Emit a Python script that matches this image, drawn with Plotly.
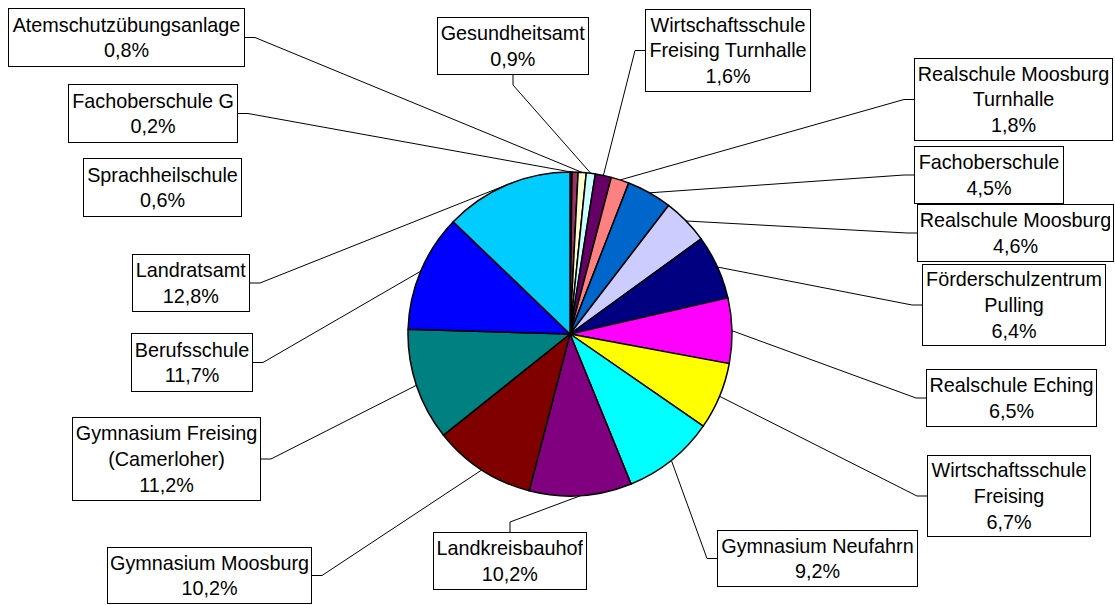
import math
import plotly.graph_objects as go

# ---- data (pie order, clockwise from 12 o'clock) ----
names = [
    "Fachoberschule G",
    "Sprachheilschule",
    "Atemschutzübungsanlage",
    "Gesundheitsamt",
    "Wirtschaftsschule\nFreising Turnhalle",
    "Realschule Moosburg\nTurnhalle",
    "Fachoberschule",
    "Realschule Moosburg",
    "Förderschulzentrum\nPulling",
    "Realschule Eching",
    "Wirtschaftsschule\nFreising",
    "Gymnasium Neufahrn",
    "Landkreisbauhof",
    "Gymnasium Moosburg",
    "Gymnasium Freising\n(Camerloher)",
    "Berufsschule",
    "Landratsamt",
]
values = [0.2, 0.6, 0.8, 0.9, 1.6, 1.8, 4.5, 4.6, 6.4, 6.5, 6.7, 9.2, 10.2, 10.2, 11.2, 11.7, 12.8]

# ---- styles ----
colors = ["#9999FF", "#993366", "#FFFFCC", "#CCFFFF", "#660066", "#FF8080", "#0066CC",
          "#CCCCFF", "#000080", "#FF00FF", "#FFFF00", "#00FFFF", "#800080", "#800000",
          "#008080", "#0000FF", "#00CCFF"]

W, H = 1115, 605
CX, CY, R = 570, 334, 162   # pie centre / radius in pixels

# label boxes (left, top, right, bottom, leader side) in pixels
boxes = [
    (68, 84, 238, 143, "right"),
    (83, 158, 242, 217, None),
    (8, 8, 245, 67, "right"),
    (437, 17, 589, 75, "bottom"),
    (645, 9, 811, 92, "left"),
    (914, 58, 1113, 141, "left"),
    (914, 146, 1064, 204, "left"),
    (917, 204, 1114, 262, "left"),
    (922, 264, 1106, 346, "left"),
    (926, 369, 1097, 427, "left"),
    (927, 455, 1091, 537, "left"),
    (717, 530, 918, 587, "left"),
    (433, 532, 587, 590, "top"),
    (107, 547, 312, 604, "right"),
    (72, 417, 261, 501, "right"),
    (131, 333, 253, 392, "right"),
    (132, 254, 250, 312, "right"),
]
STUB = 10
FONT_SIZE = 19.8


def px(x):
    return x / W


def py(y):
    return 1 - y / H


fig = go.Figure(go.Pie(
    values=values,
    labels=[n.replace("\n", " ") for n in names],
    sort=False,
    direction="clockwise",
    rotation=0,
    textinfo="none",
    marker=dict(colors=colors, line=dict(color="black", width=1.5)),
    showlegend=False,
    domain=dict(x=[px(CX - R), px(CX + R)], y=[py(CY + R), py(CY - R)]),
))

total = sum(values)
cum = 0.0
shapes = []
annotations = []
for name, v, (l, t, r, b, side) in zip(names, values, boxes):
    theta = 2 * math.pi * (cum + v / 2) / total
    cum += v
    tipx = CX + R * math.sin(theta)
    tipy = CY - R * math.cos(theta)
    text = name.replace("\n", "<br>") + "<br>" + f"{v:.1f}".replace(".", ",") + "%"
    annotations.append(dict(
        x=px((l + r) / 2), y=py((t + b) / 2), xref="paper", yref="paper",
        xanchor="center", yanchor="middle", showarrow=False,
        text=text, align="center", valign="middle",
        width=(r - l) - 8, height=(b - t) - 8,
        bordercolor="black", borderwidth=1, borderpad=3, bgcolor="white",
        font=dict(family="Liberation Sans, Arial, sans-serif", size=FONT_SIZE, color="black"),
    ))
    if side is None:
        continue
    if side == "right":
        ax, ay = r, (t + b) / 2
        sx, sy = ax + STUB, ay
    elif side == "left":
        ax, ay = l, (t + b) / 2
        sx, sy = ax - STUB, ay
    elif side == "bottom":
        ax, ay = (l + r) / 2, b
        sx, sy = ax, ay + STUB
    else:
        ax, ay = (l + r) / 2, t
        sx, sy = ax, ay - STUB
    path = f"M {px(ax)} {py(ay)} L {px(sx)} {py(sy)} L {px(tipx)} {py(tipy)}"
    shapes.append(dict(type="path", path=path, xref="paper", yref="paper",
                       line=dict(color="black", width=1), layer="below"))

fig.update_layout(
    width=W, height=H,
    margin=dict(l=0, r=0, t=0, b=0),
    paper_bgcolor="white", plot_bgcolor="white",
    shapes=shapes,
    annotations=annotations,
)

fig.write_html(
    "out.html",
    config={"displayModeBar": False},
    post_script="document.body.style.margin='0';document.body.style.overflow='hidden';",
)
